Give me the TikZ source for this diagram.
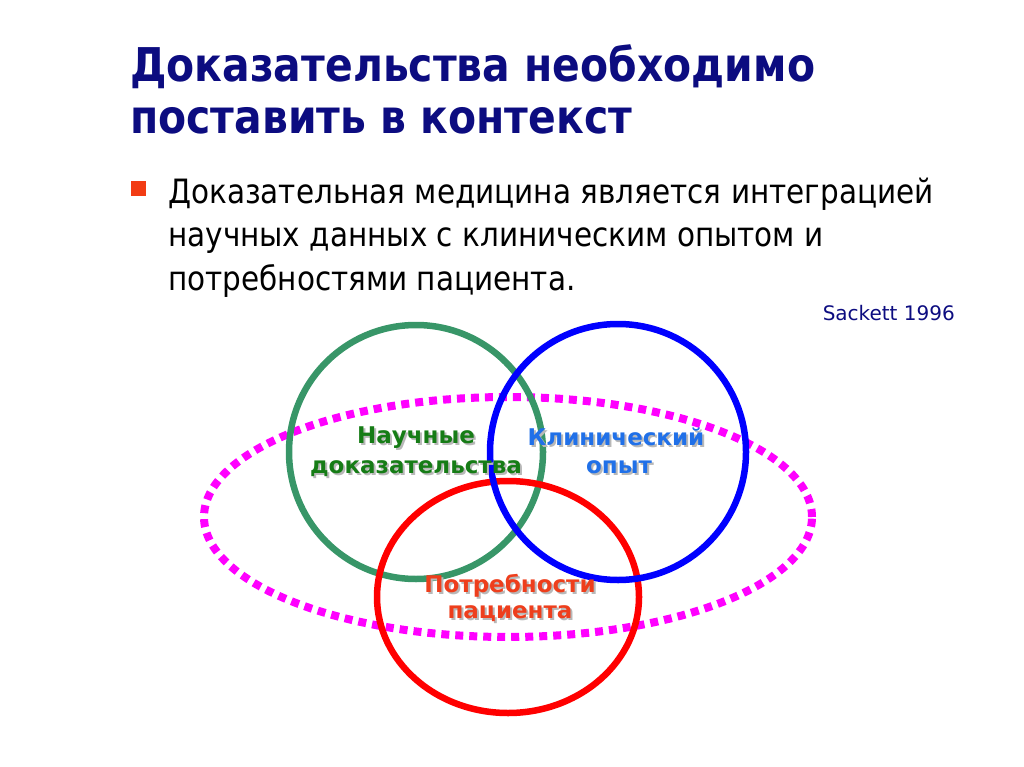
\documentclass[tikz,border=0pt]{standalone}
\usepackage{fontspec}
\setmainfont{DejaVu Sans}[FakeStretch=0.88]
\newfontfamily\widesans{DejaVu Sans}
\usetikzlibrary{positioning}

\definecolor{titlenavy}{RGB}{12,12,128}
\definecolor{ringgreen}{RGB}{56,150,104}
\definecolor{ringblue}{RGB}{0,0,255}
\definecolor{ringred}{RGB}{255,0,0}
\definecolor{dotmagenta}{RGB}{255,0,255}
\definecolor{tagred}{RGB}{238,62,28}
\definecolor{taggreen}{RGB}{22,124,22}
\definecolor{tagblue}{RGB}{32,112,232}
\definecolor{bulletred}{RGB}{242,60,20}

% a bold label with a soft grey shadow under it
\newcommand{\shadowtag}[4]{%
  \node [tag, text=black!28, anchor=base, xshift=2pt, yshift=-2pt] (#1-shadow) at #2 {#4};
  \node [tag, text=#3, anchor=base] (#1) at #2 {#4};}

\begin{document}
\begin{tikzpicture}[x=1pt, y=-1pt,
    ring/.style={line width=6.5pt},
    tag/.style={font=\widesans\bfseries\fontsize{23}{27}\selectfont, inner sep=0pt},
    heading/.style={font=\bfseries\fontsize{46.5}{54}\selectfont, text=titlenavy, inner sep=0pt, anchor=base west},
    bodytext/.style={font=\fontsize{33.5}{40}\selectfont, inner sep=0pt, anchor=base west}]
    \useasboundingbox (0, 0) rectangle (1024, 767);

    % title
    \node [heading] (title-a) at (130, 82) {Доказательства необходимо};
    \node [heading] (title-b) at (130, 134) {поставить в контекст};

    % bullet and its text
    \node [fill=bulletred, minimum size=15pt, inner sep=0pt] (bullet) at (138, 188.5) {};
    \node [bodytext] (body-a) at (168, 204) {Доказательная медицина является интеграцией};
    \node [bodytext] (body-b) at (168, 247) {научных данных с клиническим опытом и};
    \node [bodytext] (body-c) at (168, 290) {потребностями пациента.};

    \node [font=\widesans\fontsize{20}{24}\selectfont, text=titlenavy, inner sep=0pt, anchor=base east] (source) at (955, 320) {Sackett 1996};

    % the three circles and the context
    \draw [dotmagenta, line width=8pt, dash pattern=on 8pt off 6pt] (508, 517) ellipse [x radius=304pt, y radius=120pt];
    \draw [ring, ringgreen] (416, 452) circle [radius=127pt];
    \draw [ring, ringred] (508, 597) ellipse [x radius=131pt, y radius=116pt];
    \draw [ring, ringblue] (618, 452) circle [radius=128pt];

    \shadowtag{science-a}{(416, 443)}{taggreen}{Научные}
    \shadowtag{science-b}{(416, 473)}{taggreen}{доказательства}
    \shadowtag{clinic-a}{(616, 445)}{tagblue}{Клинический}
    \shadowtag{clinic-b}{(619, 473)}{tagblue}{опыт}
    \shadowtag{patient-a}{(510, 592)}{tagred}{Потребности}
    \shadowtag{patient-b}{(510, 618)}{tagred}{пациента}
\end{tikzpicture}
\end{document}
